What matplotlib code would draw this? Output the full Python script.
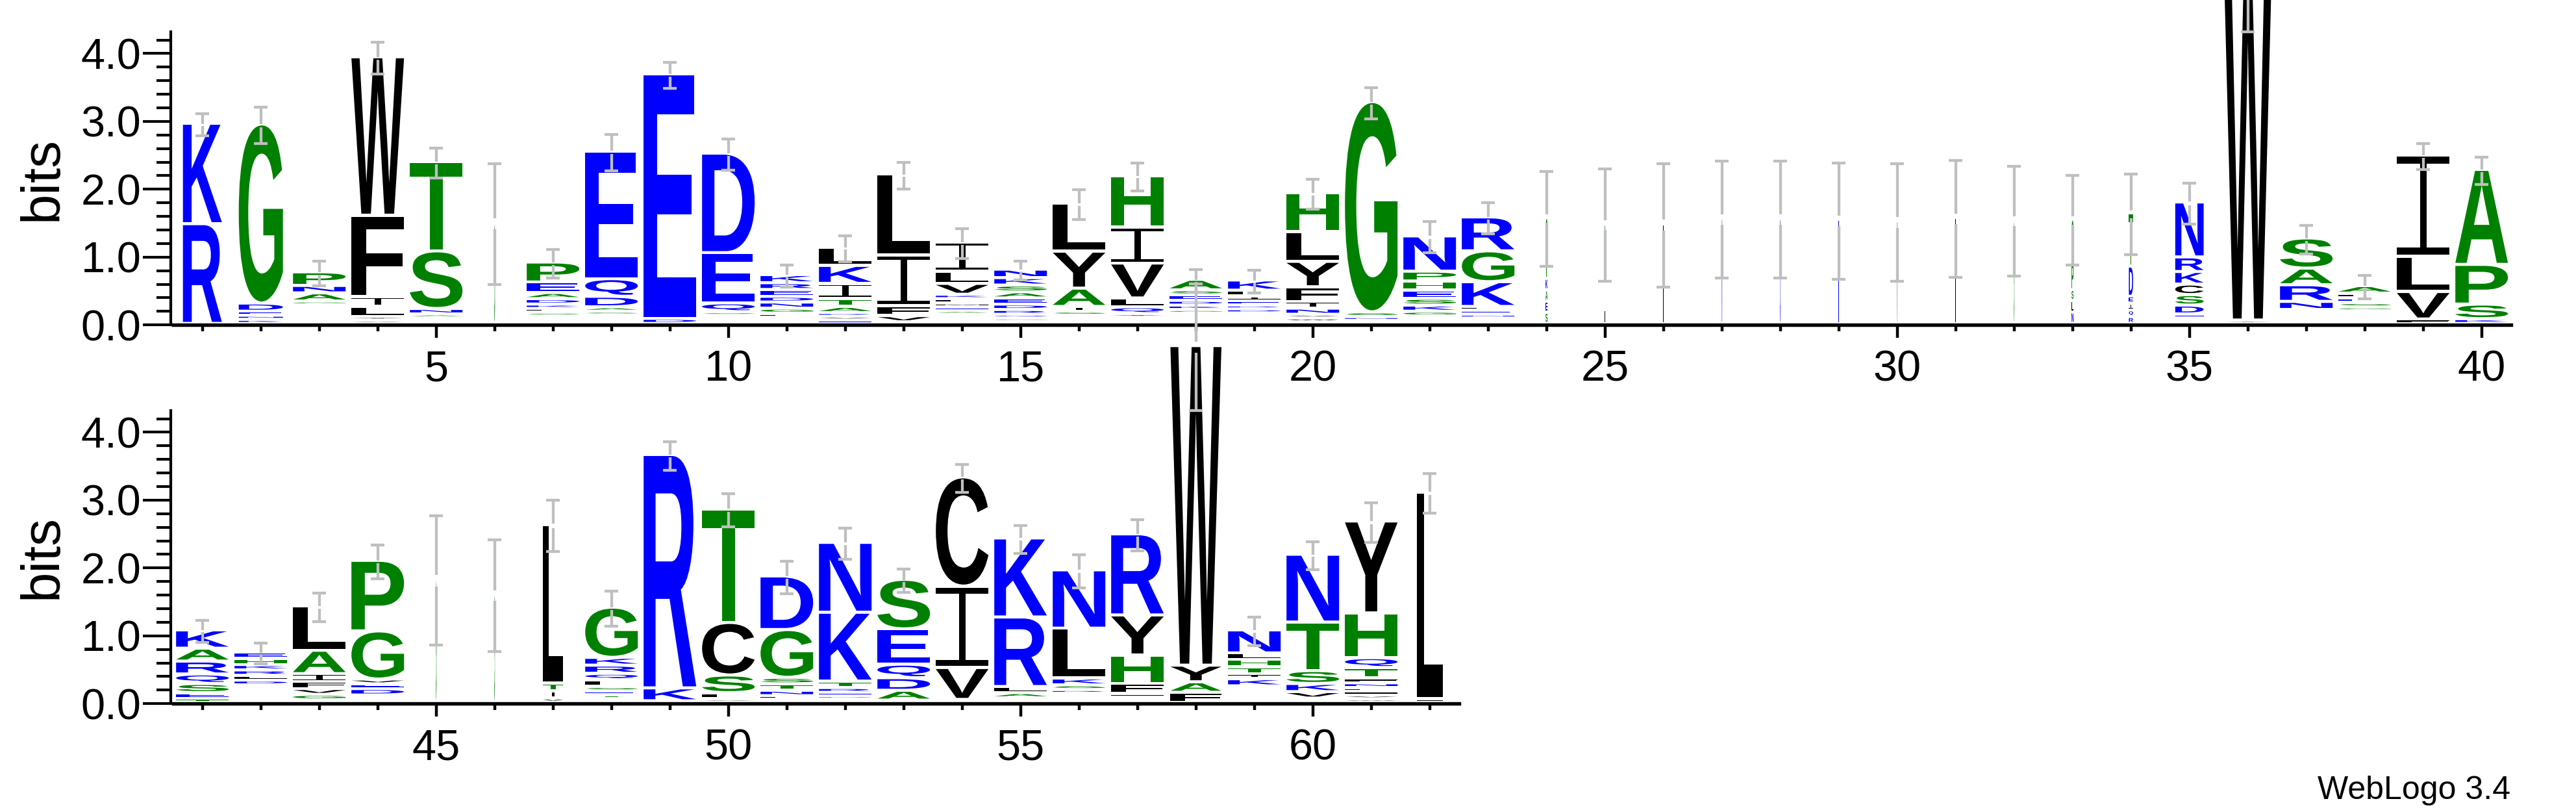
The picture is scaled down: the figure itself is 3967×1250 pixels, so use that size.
import matplotlib
matplotlib.use("Agg")
import matplotlib.pyplot as plt
from matplotlib.textpath import TextPath
from matplotlib.font_manager import FontProperties
from matplotlib.patches import PathPatch
from matplotlib.path import Path
from matplotlib.transforms import Affine2D
import numpy as np

plt.rcParams["font.family"] = ["Liberation Sans", "DejaVu Sans"]

# ---- data: stacks read top -> bottom, "letter + height in bits" ----
row1_positions = list(range(1, 41))
row1_stacks = [
    "K1.48 R1.47",
    "G2.64 D.12 E.06 N.06 K.06",
    "P.2 N.11 A.12 G.055 S.04 T.04 E.04 D.04 Q.04 R.04 K.035",
    "W2.335 F1.2 I.145 L.145 Y.055 V.05",
    "T1.32 S.85 N.08 A.055 E.045 Q.04",
    "G1.49",
    "P.295 E.155 A.09 D.08 K.065 L.055 S.055 Q.04 N.035 T.035",
    "E1.88 Q.26 D.155 A.065 S.055 N.045 K.04 T.04",
    "E3.605 D.075",
    "D1.467 E.74 Q.13 S.055 N.04 K.04 G.038",
    "K.12 R.1 E.1 D.085 N.09 G.075 L.06 Q.045 S.045",
    "L.27 K.265 I.22 T.12 A.09 R.055 V.055 E.05",
    "L1.19 I.75 F.145 V.09 Y.025",
    "I.43 L.18 V.16 K.065 F.065 M.055 E.055 A.055 Q.045 R.045 S.045",
    "N.125 K.11 S.1 A.09 E.09 D.08 R.07 Q.055 G.05 T.03",
    "L.705 Y.545 A.27 I.07 S.06 V.04 F.04 G.04",
    "H.76 I.53 V.515 L.13 Q.1 Y.055 E.045 F.045",
    "A.155 S.075 E.08 D.07 K.065 G.055 N.04 R.04 Q.035 T.035",
    "K.15 L.085 I.07 E.065 R.055 D.06 N.04 Q.04 S.04 A.035",
    "H.575 L.44 Y.375 F.215 I.1 N.09 V.055 W.055 K.025",
    "G3.1 S.07 N.055 D.045",
    "N.52 P.145 H.135 E.12 S.1 K.09 G.07 D.04 T.035 Q.035",
    "R.5 G.455 K.365 L.055 E.06 N.055 D.04 S.04",
    "G.7 T.2 K.17 A.17 E.16 S.165",
    "S.45 L1.02",
    "L1.47",
    "N1.55",
    "D1.55",
    "E1.53",
    "V1.51",
    "L1.56",
    "G1.53",
    "G.64 P.4 S.16 L.17 N.17",
    "T.785 D.445 E.1 I.1 Q.1 R.1",
    "N.81 R.215 K.185 C.155 S.155 D.13 E.055 Q.045 G.04",
    "W5.2 Y.05",
    "S.445 A.245 R.245 N.12 K.045 E.04 D.04 Q.04 G.04",
    "A.11 L.07 E.07 S.065 G.055 K.04 D.04 N.035 T.036 Q.036",
    "I1.49 L.52 V.405 F.065",
    "A1.4 P.585 S.215 K.07",
]
row1_widths = [0.74, 0.84, 1, 1, 1, 0.015, 1, 1, 1, 1,
               1, 1, 1, 1, 1, 1, 1, 1, 1, 1,
               1, 1, 1, 0.04, 0.012, 0.01, 0.01, 0.01, 0.01, 0.01,
               0.01, 0.01, 0.04, 0.08, 0.54, 0.91, 1, 1, 1, 1]
row1_errors = [0.16, 0.27, 0.18, 0.235, 0.22, 0.89, 0.21, 0.27, 0.19, 0.23,
               0.16, 0.19, 0.2, 0.22, 0.14, 0.22, 0.21, 0.17, 0.17, 0.22,
               0.23, 0.23, 0.23, 0.7, 0.83, 0.91, 0.86, 0.86, 0.86, 0.87,
               0.86, 0.81, 0.66, 0.59, 0.30, 0.93, 0.21, 0.17, 0.19, 0.20]

row2_positions = list(range(41, 63))
row2_stacks = [
    "K.27 A.19 R.19 Q.14 S.135 E.085 T.055",
    "E.095 H.09 K.08 R.08 L.07 D.07 Q.045 N.045 S.045 G.04 T.04 A.04",
    "L.655 A.345 I.115 F.105 V.085 G.08 Y.035",
    "P1.04 G.71 V.07 E.07 D.095 N.035 K.035 Q.035",
    "G1.815",
    "S1.59",
    "L2.34 T.115 I.105 V.06",
    "G.74 K.115 R.12 Q.095 L.1 S.065 E.055 T.055 D.03 A.025",
    "R3.44 K.19 D.02",
    "T1.675 C.775 S.26 L.09 V.05",
    "D.79 G.705 S.095 T.095 N.08 L.055 E.04",
    "N1.03 K1.015 T.095 R.07 E.05 D.05 Q.045",
    "S.73 E.52 Q.2 D.185 A.145 N.03",
    "C1.61 I1.2 V.47 L.04",
    "K1.165 R1.025 L.09 A.075 N.035 Q.03",
    "N.86 L.735 K.1 S.07 R.055 D.045 E.045 G.04",
    "R1.195 Y.59 H.42 F.145 L.055 N.04 K.035",
    "W4.71 Y.245 A.155 F.145",
    "N.34 L.095 H.11 T.1 I.075 K.105 E.045 D.045 R.04 Q.04 S.035 G.035",
    "N1.0 T.715 S.19 K.12 V.095 E.03 D.03",
    "Y1.355 H.66 Q.145 T.155 F.07 N.07 L.055 I.055 V.055 W.05",
    "L3.047 I.05",
]
row2_widths = [1, 1, 1, 1, 0.012, 0.012, 0.39, 1, 1, 1, 1,
               1, 1, 1, 1, 1, 1, 0.97, 1, 1, 1, 0.49]
row2_errors = [0.16, 0.15, 0.21, 0.25, 0.95, 0.82, 0.38, 0.26, 0.21, 0.24, 0.24,
               0.23, 0.17, 0.21, 0.21, 0.24, 0.23, 0.935, 0.21, 0.21, 0.29, 0.29]

# hydrophobicity colour scheme
colours = {}
for c in "RKDENQ":
    colours[c] = "#0000ff"
for c in "SGHTAP":
    colours[c] = "#008000"
for c in "YVMCLFIW":
    colours[c] = "#000000"

letter_font = FontProperties(family="Liberation Sans", weight="bold")
_cache = {}


def glyph(ch):
    if ch in _cache:
        return _cache[ch]
    if ch == "I":
        b, s = 0.075, 0.12
        l, r = 0.5 - s / 2, 0.5 + s / 2
        verts = [(0, 0), (1, 0), (1, b), (r, b), (r, 1 - b), (1, 1 - b), (1, 1),
                 (0, 1), (0, 1 - b), (l, 1 - b), (l, b), (0, b), (0, 0)]
        p = Path(verts, [Path.MOVETO] + [Path.LINETO] * 11 + [Path.CLOSEPOLY])
    else:
        p = TextPath((0, 0), ch, size=100, prop=letter_font)
    _cache[ch] = p
    return p


def draw_letter(ax, ch, x, y0, w, h):
    p = glyph(ch)
    bb = p.get_extents()
    t = (Affine2D().translate(-bb.x0, -bb.y0)
         .scale(w / bb.width, h / bb.height).translate(x - w / 2, y0))
    ax.add_patch(PathPatch(t.transform_path(p), facecolor=colours[ch],
                           edgecolor="none", lw=0, clip_on=False, zorder=3))


def draw_errbar(ax, x, top, e):
    g = 0.09 * e
    kw = dict(color="#bfbfbf", lw=3.1, solid_capstyle="butt", clip_on=False, zorder=5)
    ax.plot([x, x], [top + g, top + e], **kw)
    ax.plot([x, x], [top - e, top - g], **kw)
    cw = 0.117
    ax.plot([x - cw, x + cw], [top + e, top + e], **kw)
    ax.plot([x - cw, x + cw], [top - e, top - e], **kw)


def draw_row(ax, positions, stacks, widths, errors):
    gap = 0.045
    for pos, st, wf, err in zip(positions, stacks, widths, errors):
        items = [(tok[0], float(tok[1:])) for tok in st.split()]
        y = 0.0
        for ch, h in reversed(items):
            ink = h - gap
            if ink > 0.003:
                draw_letter(ax, ch, pos, y + gap, 0.9 * wf, ink)
            y += h
        draw_errbar(ax, pos, y, err)


def setup(ax, first, last):
    ax.set_xlim(first - 0.5, last + 0.5)
    ax.set_ylim(0, 4.32)
    ax.spines["top"].set_visible(False)
    ax.spines["right"].set_visible(False)
    ax.spines["left"].set_position(("outward", 2.5))
    ax.spines["left"].set_linewidth(3)
    ax.spines["bottom"].set_linewidth(3.9)
    ax.set_xticks([p for p in range(first, last + 1) if p % 5 == 0])
    ax.set_xticks(list(range(first, last + 1)), minor=True)
    ax.set_yticks([0, 1, 2, 3, 4])
    ax.set_yticklabels(["0.0", "1.0", "2.0", "3.0", "4.0"])
    ax.set_yticks(np.arange(0, 4.3, 0.2), minor=True)
    ax.tick_params(axis="y", which="major", length=31, width=3, labelsize=48, pad=2)
    ax.tick_params(axis="y", which="minor", length=16, width=3)
    ax.tick_params(axis="x", which="major", length=14.5, width=3.2, labelsize=48, pad=13)
    ax.tick_params(axis="x", which="minor", length=7, width=3.2)


W, H, DPI = 3967, 1250, 100
fig = plt.figure(figsize=(W / DPI, H / DPI), dpi=DPI)

ax1 = fig.add_axes([266.7 / W, (H - 500.2) / H, 3600 / W, 451.2 / H])
ax2 = fig.add_axes([266.7 / W, (H - 1083.2) / H, 1980 / W, 451.2 / H])
for ax in (ax1, ax2):
    ax.patch.set_visible(False)

setup(ax1, 1, 40)
setup(ax2, 41, 62)
draw_row(ax1, row1_positions, row1_stacks, row1_widths, row1_errors)
draw_row(ax2, row2_positions, row2_stacks, row2_widths, row2_errors)

fig.text(66 / W, 1 - 275 / H, "bits", rotation=90, ha="center", va="center", fontsize=60)
fig.text(66 / W, 1 - 857 / H, "bits", rotation=90, ha="center", va="center", fontsize=60)
fig.text(3866 / W, 20 / H, "WebLogo 3.4", ha="right", va="baseline", fontsize=36)

fig.savefig("out.png", dpi=DPI)
